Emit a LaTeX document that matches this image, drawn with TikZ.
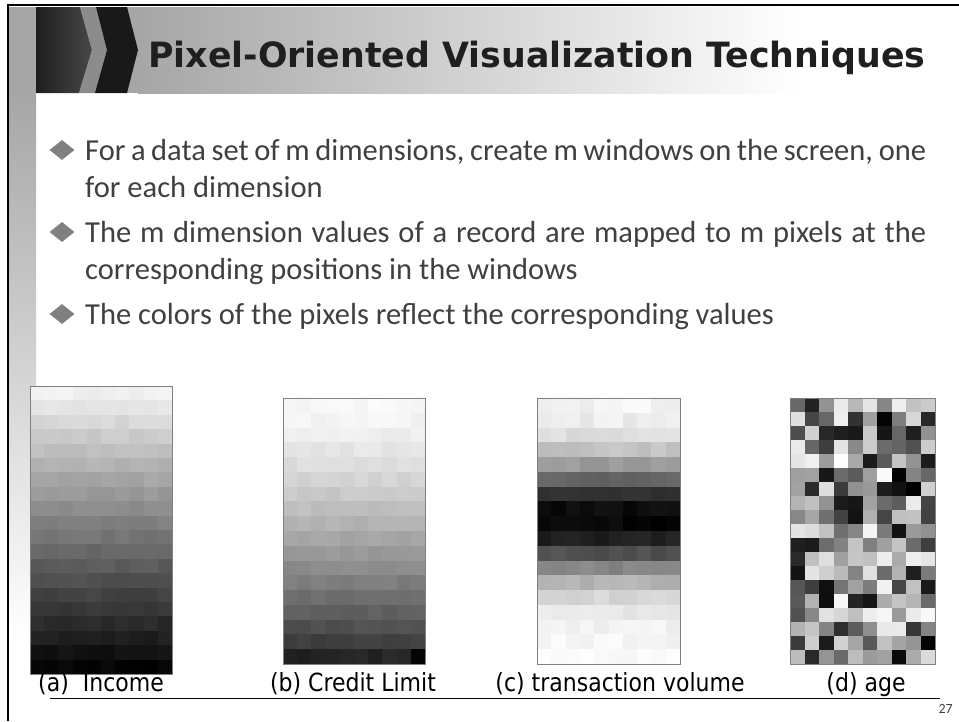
\documentclass[tikz,border=0pt]{standalone}
\usepackage{fontspec}
\usepackage{xcolor}
\setmainfont{Carlito}
\newfontfamily\titlefont{DejaVu Sans}
\newfontfamily\capfont[FakeStretch=0.88]{DejaVu Sans}
\definecolor{bodygray}{HTML}{404040}
\definecolor{bulletgray}{HTML}{808080}
\definecolor{bandgray}{HTML}{A6A6A6}
\usetikzlibrary{positioning,shapes.geometric}

\begin{document}
\begin{tikzpicture}[x=1pt,y=-1pt,
    bodytext/.style={anchor=base west,inner sep=0pt,text=bodygray,font=\fontsize{30.5}{36}\selectfont},
    bulletmark/.style={diamond,fill=bulletgray,inner sep=0pt,minimum width=25pt,minimum height=20pt},
    caption/.style={anchor=base,inner sep=0pt,font=\capfont\fontsize{25}{25}\selectfont},
    pixbox/.style={draw=black!50,line width=0.8pt}]

\useasboundingbox (0,0) rectangle (959,721);
\fill[white] (0,0) rectangle (959,721);

\fill[bandgray] (9,7) rectangle (36,93);
\shade[top color=bandgray,bottom color=white] (9,93) rectangle (36,640);
\fill[bandgray] (36,7) rectangle (138,93);
\shade[left color=bandgray,right color=white] (138,7) rectangle (800,93);

\shade[left color=black!88,right color=black!72] (36,7) -- (80,7) -- (92,50) -- (79,93) -- (36,93) -- cycle;
\fill[black!45] (80,7) -- (96,7) -- (107,50) -- (95,93) -- (79,93) -- (92,50) -- cycle;
\fill[black!90] (96,7) -- (127,7) -- (138,50) -- (127,93) -- (95,93) -- (107,50) -- cycle;

\draw[line width=2.2pt] (959,5) -- (8,5) -- (8,721);

\node[anchor=base west,inner sep=0pt,text=black!88,font=\titlefont\bfseries\fontsize{34.8}{36}\selectfont] (title) at (148,67) {Pixel-Oriented Visualization Techniques};

\node[bodytext] (line1) at (85,160) {\makebox[841pt][s]{For a data set of m dimensions, create m windows on the screen, one}};
\node[bodytext] (line2) at (85,197) {for each dimension};
\node[bodytext] (line3) at (85,242) {\makebox[841pt][s]{The m dimension values of a record are mapped to m pixels at the}};
\node[bodytext] (line4) at (85,279) {corresponding positions in the windows};
\node[bodytext] (line5) at (85,324) {The colors of the pixels reflect the corresponding values};
\node[bulletmark] (bullet1) at (62,150) {};
\node[bulletmark] (bullet2) at (62,232) {};
\node[bulletmark] (bullet3) at (62,314) {};

\pgfmathsetseed{27}
\foreach \r in {0,...,19}
  \foreach \c in {0,...,9} {
    \pgfmathsetmacro\v{max(0,min(100,6+92*\r/19+2*rand))}
    \fill[black!\v] (30+14.2*\c,386+14.4*\r) rectangle ++(14.7,14.9);
  }
\draw[pixbox] (30,386) rectangle (172,674);

\foreach \r in {0,...,17}
  \foreach \c in {0,...,9} {
    \pgfmathsetmacro\v{\r<17 ? max(0,min(100,3+72*(\r/16)^1.4+2*rand)) : (\c==9 ? 98 : 86+3*rand)}
    \fill[black!\v] (283+14.2*\c,398+14.78*\r) rectangle ++(14.7,15.3);
  }
\draw[pixbox] (283,398) rectangle (425,664);

\foreach \r in {0,...,17}
  \foreach \c in {0,...,9} {
    \pgfmathsetmacro\v{max(0,min(100,3+95*exp(-((\r-7.7)/3.8)^2)+3*rand))}
    \fill[black!\v] (537+14.3*\c,398+14.78*\r) rectangle ++(14.8,15.3);
  }
\draw[pixbox] (537,398) rectangle (680,664);

\foreach \r in {0,...,18}
  \foreach \c in {0,...,9} {
    \pgfmathsetmacro\v{50+50*rand}
    \fill[black!\v] (790+14.5*\c,398+14*\r) rectangle ++(15,14.5);
  }
\draw[pixbox] (790,398) rectangle (935,664);

\node[caption] (capa) at (101,691) {(a)\ \ Income};
\node[caption] (capb) at (353,691) {(b) Credit Limit};
\node[caption] (capc) at (620,691) {(c) transaction volume};
\node[caption] (capd) at (866,691) {(d) age};

\coordinate (rulestart) at (50,698);
\coordinate (ruleend) at (940,698);
\draw[line width=1pt] (rulestart) -- (ruleend);

\node[anchor=base east,inner sep=0pt,text=bodygray,font=\fontsize{14}{14}\selectfont] (pagenum) at (953,713) {27};

\end{tikzpicture}
\end{document}
